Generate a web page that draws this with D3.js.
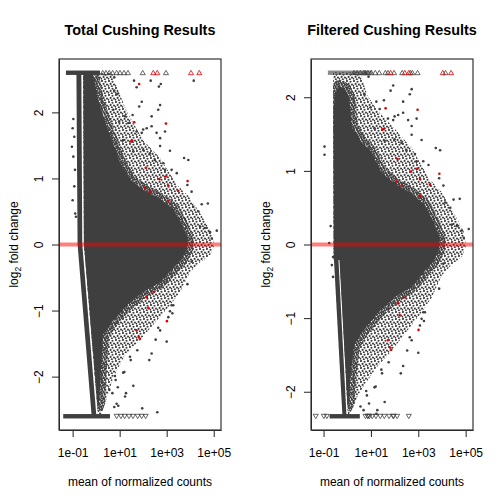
<!DOCTYPE html>
<html>
<head>
<meta charset="utf-8">
<script src="https://cdn.jsdelivr.net/npm/d3@7"></script>
<style>
  body { margin: 0; background: #fff; }
  text { font-family: "Liberation Sans", Arial, Helvetica, sans-serif; fill: #000; }
</style>
</head>
<body>
<svg id="chart" width="504" height="504"></svg>
<script>
// All positions below are [log10(mean of normalized counts), log2 fold change]
var titles = ["Total Cushing Results", "Filtered Cushing Results"];
var xTicks = [1e-1, 1e1, 1e3, 1e5];
var xTickLabels = ["1e-01", "1e+01", "1e+03", "1e+05"];
var yTicks = [-2, -1, 0, 1, 2];
var yLimits = [2.6, 2.333];
var xLimits = [[-1.58, 5.31], [-1.53, 5.31]];

// outline of the solid part of the cloud
var core1 = [[-0.54,2.6],[-0.15,2.6],[0.03,2.27],[0.33,1.89],[0.67,1.58],[0.97,1.28],[1.44,0.98],[1.99,0.83],[2.72,0.69],[3.27,0.54],[3.65,0.30],[3.91,0.07],[3.86,-0.08],[3.61,-0.24],[3.35,-0.33],[2.72,-0.57],[1.99,-0.72],[1.31,-0.92],[0.67,-1.17],[0.29,-1.37],[0.20,-1.90],[0.12,-2.44],[0.06,-2.44],[-0.52,0.01]];
var core2 = [[-0.58,1.80],[-0.52,2.05],[-0.35,2.15],[-0.10,2.12],[0.08,2.00],[0.20,1.59],[0.63,1.38],[0.97,1.28],[1.44,0.98],[1.99,0.83],[2.72,0.69],[3.27,0.54],[3.65,0.30],[3.91,0.07],[3.86,-0.08],[3.61,-0.24],[3.35,-0.33],[2.72,-0.57],[1.99,-0.72],[1.31,-0.92],[0.67,-1.17],[0.29,-1.37],[0.12,-1.84],[0.06,-2.18],[0.01,-2.18],[-0.33,-0.21],[-0.56,-0.21]];

// outline of the sparser fringe round it
var halo1 = [[-0.56,2.6],[0.67,2.6],[1.01,2.27],[1.31,2.01],[1.99,1.58],[2.72,1.31],[3.44,0.90],[3.99,0.71],[4.55,0.40],[4.93,0.17],[5.01,-0.02],[4.84,-0.17],[4.42,-0.27],[3.99,-0.42],[3.57,-0.72],[3.14,-0.92],[2.42,-1.22],[1.86,-1.45],[1.23,-1.67],[0.72,-2.02],[0.42,-2.36],[0.20,-2.6],[0.08,-2.6],[-0.52,0.01]];
var halo2 = [[-0.60,2.34],[0.55,2.34],[0.84,2.03],[1.27,1.82],[1.99,1.58],[2.72,1.31],[3.44,0.90],[3.99,0.71],[4.55,0.40],[4.93,0.17],[5.01,-0.02],[4.84,-0.17],[4.42,-0.27],[3.99,-0.42],[3.57,-0.72],[3.14,-0.92],[2.42,-1.22],[1.86,-1.45],[1.23,-1.67],[0.46,-2.04],[0.20,-2.25],[0.03,-2.34],[-0.31,-0.21],[-0.58,-0.21]];

// the low count streak on the left
var band1 = [[-0.84,2.6],[-0.79,0.0],[-0.19,-2.6],[0.01,-2.6],[-0.59,0.0],[-0.63,2.6]];
var band2 = [[-0.56,-0.21],[-0.20,-2.34],[-0.03,-2.34],[-0.37,-0.21]];

// runs of overlapping clipped triangles [from, to]
var topRun1 = [-1.285, 0.162], bottomRun1 = [-1.40, 0.587];
var topRun2 = [-0.817, 1.055], bottomRun2 = [-0.745, 0.532];

// genes beyond +-2.6 (drawn as triangles)
var topClipGray = [0.277, 0.417, 0.557, 0.702, 0.872, 1.013, 1.183, 1.353, 1.979, 2.970];
var topClipRed = [2.43, 2.60, 4.034, 4.387];
var bottomClipGray = [0.872, 1.055, 1.213, 1.396, 1.566, 1.766, 1.936, 2.106];
var bottomClipExtra2 = [-1.33, -0.987, -0.86];

// single genes outside the cloud
var grayPts = [[0.77,2.53],[1.61,2.48],[1.72,2.38],[2.32,2.48],[2.75,2.43],[2.67,2.39],[4.15,2.48],[0.77,2.33],[0.90,2.28],[1.94,2.16],[1.83,2.09],[2.72,2.11],[2.64,2.04],[2.36,1.94],[0.73,2.04],[1.23,1.94],[1.55,1.96],[0.98,1.86],[1.37,1.84],[2.36,1.79],[2.00,1.74],[2.15,1.76],[1.72,1.71],[2.57,1.69],[2.93,1.71],[2.72,1.61],[1.94,1.69],[3.14,1.42],[1.58,1.41],[2.00,1.43],[2.29,1.38],[2.72,1.49],[1.15,1.58],[3.74,1.31],[3.92,1.28],[2.50,1.28],[2.86,1.23],[2.93,1.13],[3.21,1.13],[3.43,1.08],[3.88,0.90],[4.06,0.80],[4.49,0.61],[4.75,0.62],[4.13,0.57],[4.35,0.50],[4.42,0.27],[4.63,0.25],[4.84,0.19],[5.13,0.21],[4.92,0.09],
  [4.06,-0.26],[3.88,-0.60],[3.21,-0.92],[3.28,-0.92],[3.14,-1.01],[3.24,-1.04],[3.07,-1.10],[2.64,-1.26],[2.72,-1.30],[3.00,-1.47],[2.53,-1.44],[2.36,-1.65],[2.26,-1.75],[1.75,-1.60],[1.44,-1.70],[1.47,-1.75],[1.15,-1.94],[1.58,-2.14],[1.27,-2.25],[1.23,-2.30],[0.69,-2.25],[0.87,-2.41],[0.94,-2.44],[1.96,-2.48],[2.60,-2.54],[0.80,-1.99],[0.83,-2.05],[1.20,-1.93],[0.92,-2.16],[0.56,-2.20],[0.77,-2.46]];
var leftPts1 = [[-0.97,1.90],[-1.00,1.76],[-0.93,1.63],[-1.03,1.48],[-0.97,1.33],[-0.90,1.13],[-0.93,0.88],[-1.00,0.67],[-0.89,0.47],[-0.86,0.42]];
var leftPts2 = [[-0.96,1.33],[-0.96,1.22],[-0.70,0.25],[-0.76,0.02],[-0.60,-0.17],[-0.65,-0.28],[-0.60,-0.44]];

// significant genes (red)
var redPts = [[1.83,2.43],[1.62,1.85],[2.97,1.83],[1.48,1.56],[1.54,1.57],[2.12,1.16],[2.69,0.99],[2.96,1.03],[3.89,0.96],[2.08,0.86],[2.29,0.80],[3.07,0.89],[3.49,0.81],[3.07,0.66],
  [2.15,-0.80],[2.45,-0.72],[2.22,-0.96],[3.01,-1.16],[1.72,-1.30],[1.81,-1.40],[1.86,-1.43]];

var panels = [
  { left: 59, core: core1, halo: halo1, band: band1, topRun: topRun1, bottomRun: bottomRun1, topRunOpacity: 1, extraPts: leftPts1, extraBottom: [] },
  { left: 311, core: core2, halo: halo2, band: band2, topRun: topRun2, bottomRun: bottomRun2, topRunOpacity: 0.6, extraPts: leftPts2, extraBottom: bottomClipExtra2 }
];

var plotTop = 59, w = 162, h = 371;
var grey = "#3f3f3f";

var svg = d3.select("#chart");
var defs = svg.append("defs");

// speckle textures for the fringe of the cloud (sparse outside, denser next to the core)
function speckle(id, size, dots) {
  var pat = defs.append("pattern").attr("id", id)
    .attr("width", size).attr("height", size).attr("patternUnits", "userSpaceOnUse");
  dots.forEach(function (c) {
    pat.append("circle").attr("cx", c[0]).attr("cy", c[1]).attr("r", 1.05).attr("fill", grey);
  });
}
speckle("speck", 7, [[1, 1], [4.5, 1.8], [2.6, 3.9], [6, 4.6], [0.3, 5.8], [3.8, 6.4]]);
speckle("speckDense", 5, [[1, 0.8], [3.4, 1.4], [2.2, 2.9], [4.6, 3.4], [0.4, 4.2], [3, 4.7]]);

function pow10(v) { return Math.pow(10, v); }

function drawPanel(i) {
  var p = panels[i];
  var ylim = yLimits[i];
  var x = d3.scaleLog().domain([pow10(xLimits[i][0]), pow10(xLimits[i][1])]).range([0, w]);
  var y = d3.scaleLinear().domain([-ylim * 1.08, ylim * 1.08]).range([h, 0]);
  var line = d3.line().x(function (d) { return x(pow10(d[0])); }).y(function (d) { return y(d[1]); });

  defs.append("clipPath").attr("id", "clip" + i)
    .append("rect").attr("width", w).attr("height", h);
  defs.append("clipPath").attr("id", "haloClip" + i)
    .append("path").attr("d", line(p.halo) + "Z");

  var g = svg.append("g").attr("transform", "translate(" + p.left + "," + plotTop + ")");
  var plot = g.append("g").attr("clip-path", "url(#clip" + i + ")");

  plot.append("path").attr("d", line(p.halo) + "Z").attr("fill", "url(#speck)");
  plot.append("g").attr("clip-path", "url(#haloClip" + i + ")")
    .append("path").attr("d", line(p.core) + "Z")
    .attr("fill", "none").attr("stroke", "url(#speckDense)").attr("stroke-width", 12)
    .attr("stroke-linejoin", "round");
  plot.append("path").attr("d", line(p.core) + "Z").attr("fill", grey);
  plot.append("path").attr("d", line(p.band) + "Z").attr("fill", grey);

  // runs of clipped triangles
  [[p.topRun, ylim, p.topRunOpacity], [p.bottomRun, -ylim, 1]].forEach(function (r) {
    plot.append("rect")
      .attr("x", x(pow10(r[0][0])))
      .attr("width", x(pow10(r[0][1])) - x(pow10(r[0][0])))
      .attr("y", y(r[1]) - 2.2).attr("height", 4.4)
      .attr("fill", grey).attr("fill-opacity", r[2]);
  });

  var pts = grayPts.concat(p.extraPts);
  var inside = pts.filter(function (d) { return Math.abs(d[1]) < ylim; });
  var outside = pts.filter(function (d) { return Math.abs(d[1]) >= ylim; });

  plot.selectAll("circle.gene").data(inside).join("circle")
    .attr("class", "gene")
    .attr("cx", function (d) { return x(pow10(d[0])); })
    .attr("cy", function (d) { return y(d[1]); })
    .attr("r", 1.3).attr("fill", grey);

  var tri = d3.symbol(d3.symbolTriangle, 11);
  function triangles(data, up, colour) {
    plot.append("g").selectAll("path").data(data).join("path")
      .attr("d", tri)
      .attr("transform", function (d) {
        return "translate(" + x(pow10(d)) + "," + (y(up ? ylim : -ylim) + (up ? 0.5 : -0.5)) + ")" + (up ? "" : " rotate(180)");
      })
      .attr("fill", "none").attr("stroke", colour).attr("stroke-width", 0.8);
  }
  triangles(topClipGray, true, grey);
  triangles(bottomClipGray.concat(p.extraBottom), false, grey);
  triangles(outside.filter(function (d) { return d[1] > 0; }).map(function (d) { return d[0]; }), true, grey);
  triangles(outside.filter(function (d) { return d[1] < 0; }).map(function (d) { return d[0]; }), false, grey);

  var redIn = redPts.filter(function (d) { return Math.abs(d[1]) < ylim; });
  var redOut = redPts.filter(function (d) { return Math.abs(d[1]) >= ylim; }).map(function (d) { return d[0]; });
  plot.selectAll("circle.sig").data(redIn).join("circle")
    .attr("class", "sig")
    .attr("cx", function (d) { return x(pow10(d[0])); })
    .attr("cy", function (d) { return y(d[1]); })
    .attr("r", 1.3).attr("fill", "#e00000");
  triangles(topClipRed.concat(redOut), true, "#e00000");

  plot.append("line")
    .attr("x1", 0).attr("x2", w).attr("y1", y(0)).attr("y2", y(0))
    .attr("stroke", "#ff0000").attr("stroke-opacity", 0.5).attr("stroke-width", 4);

  // axes
  var yAxis = g.append("g").call(d3.axisLeft(y).tickValues(yTicks).tickSize(7).tickSizeOuter(0).tickFormat(d3.format("d")));
  yAxis.selectAll(".tick text")
    .attr("x", null).attr("dy", null)
    .attr("transform", "translate(-16,0) rotate(-90)")
    .attr("text-anchor", "middle").style("font-size", "12px");

  var xAxis = g.append("g").attr("transform", "translate(0," + h + ")")
    .call(d3.axisBottom(x).tickValues(xTicks).tickSize(7).tickSizeOuter(0)
      .tickFormat(function (d, k) { return xTickLabels[k]; }));
  xAxis.selectAll(".tick text").attr("y", 27).attr("dy", null).style("font-size", "12px");
  [yAxis, xAxis].forEach(function (a) {
    a.selectAll("line, path").attr("stroke", "#222");
    a.attr("font-family", null).attr("font-size", null);
  });

  g.append("rect").attr("width", w).attr("height", h)
    .attr("fill", "none").attr("stroke", "#333").attr("stroke-width", 1.2);

  // labels
  g.append("text").attr("x", w / 2).attr("y", -24)
    .attr("text-anchor", "middle").style("font-size", "14.4px").style("font-weight", "bold")
    .text(titles[i]);
  g.append("text").attr("x", w / 2).attr("y", h + 56)
    .attr("text-anchor", "middle").style("font-size", "12px")
    .text("mean of normalized counts");
  var yl = g.append("text")
    .attr("transform", "translate(-41.5," + (h / 2) + ") rotate(-90)")
    .attr("text-anchor", "middle").style("font-size", "12px");
  yl.append("tspan").text("log");
  yl.append("tspan").attr("dy", 3).style("font-size", "8.5px").text("2");
  yl.append("tspan").attr("dy", -3).text(" fold change");
}

drawPanel(0);
drawPanel(1);
</script>
</body>
</html>
